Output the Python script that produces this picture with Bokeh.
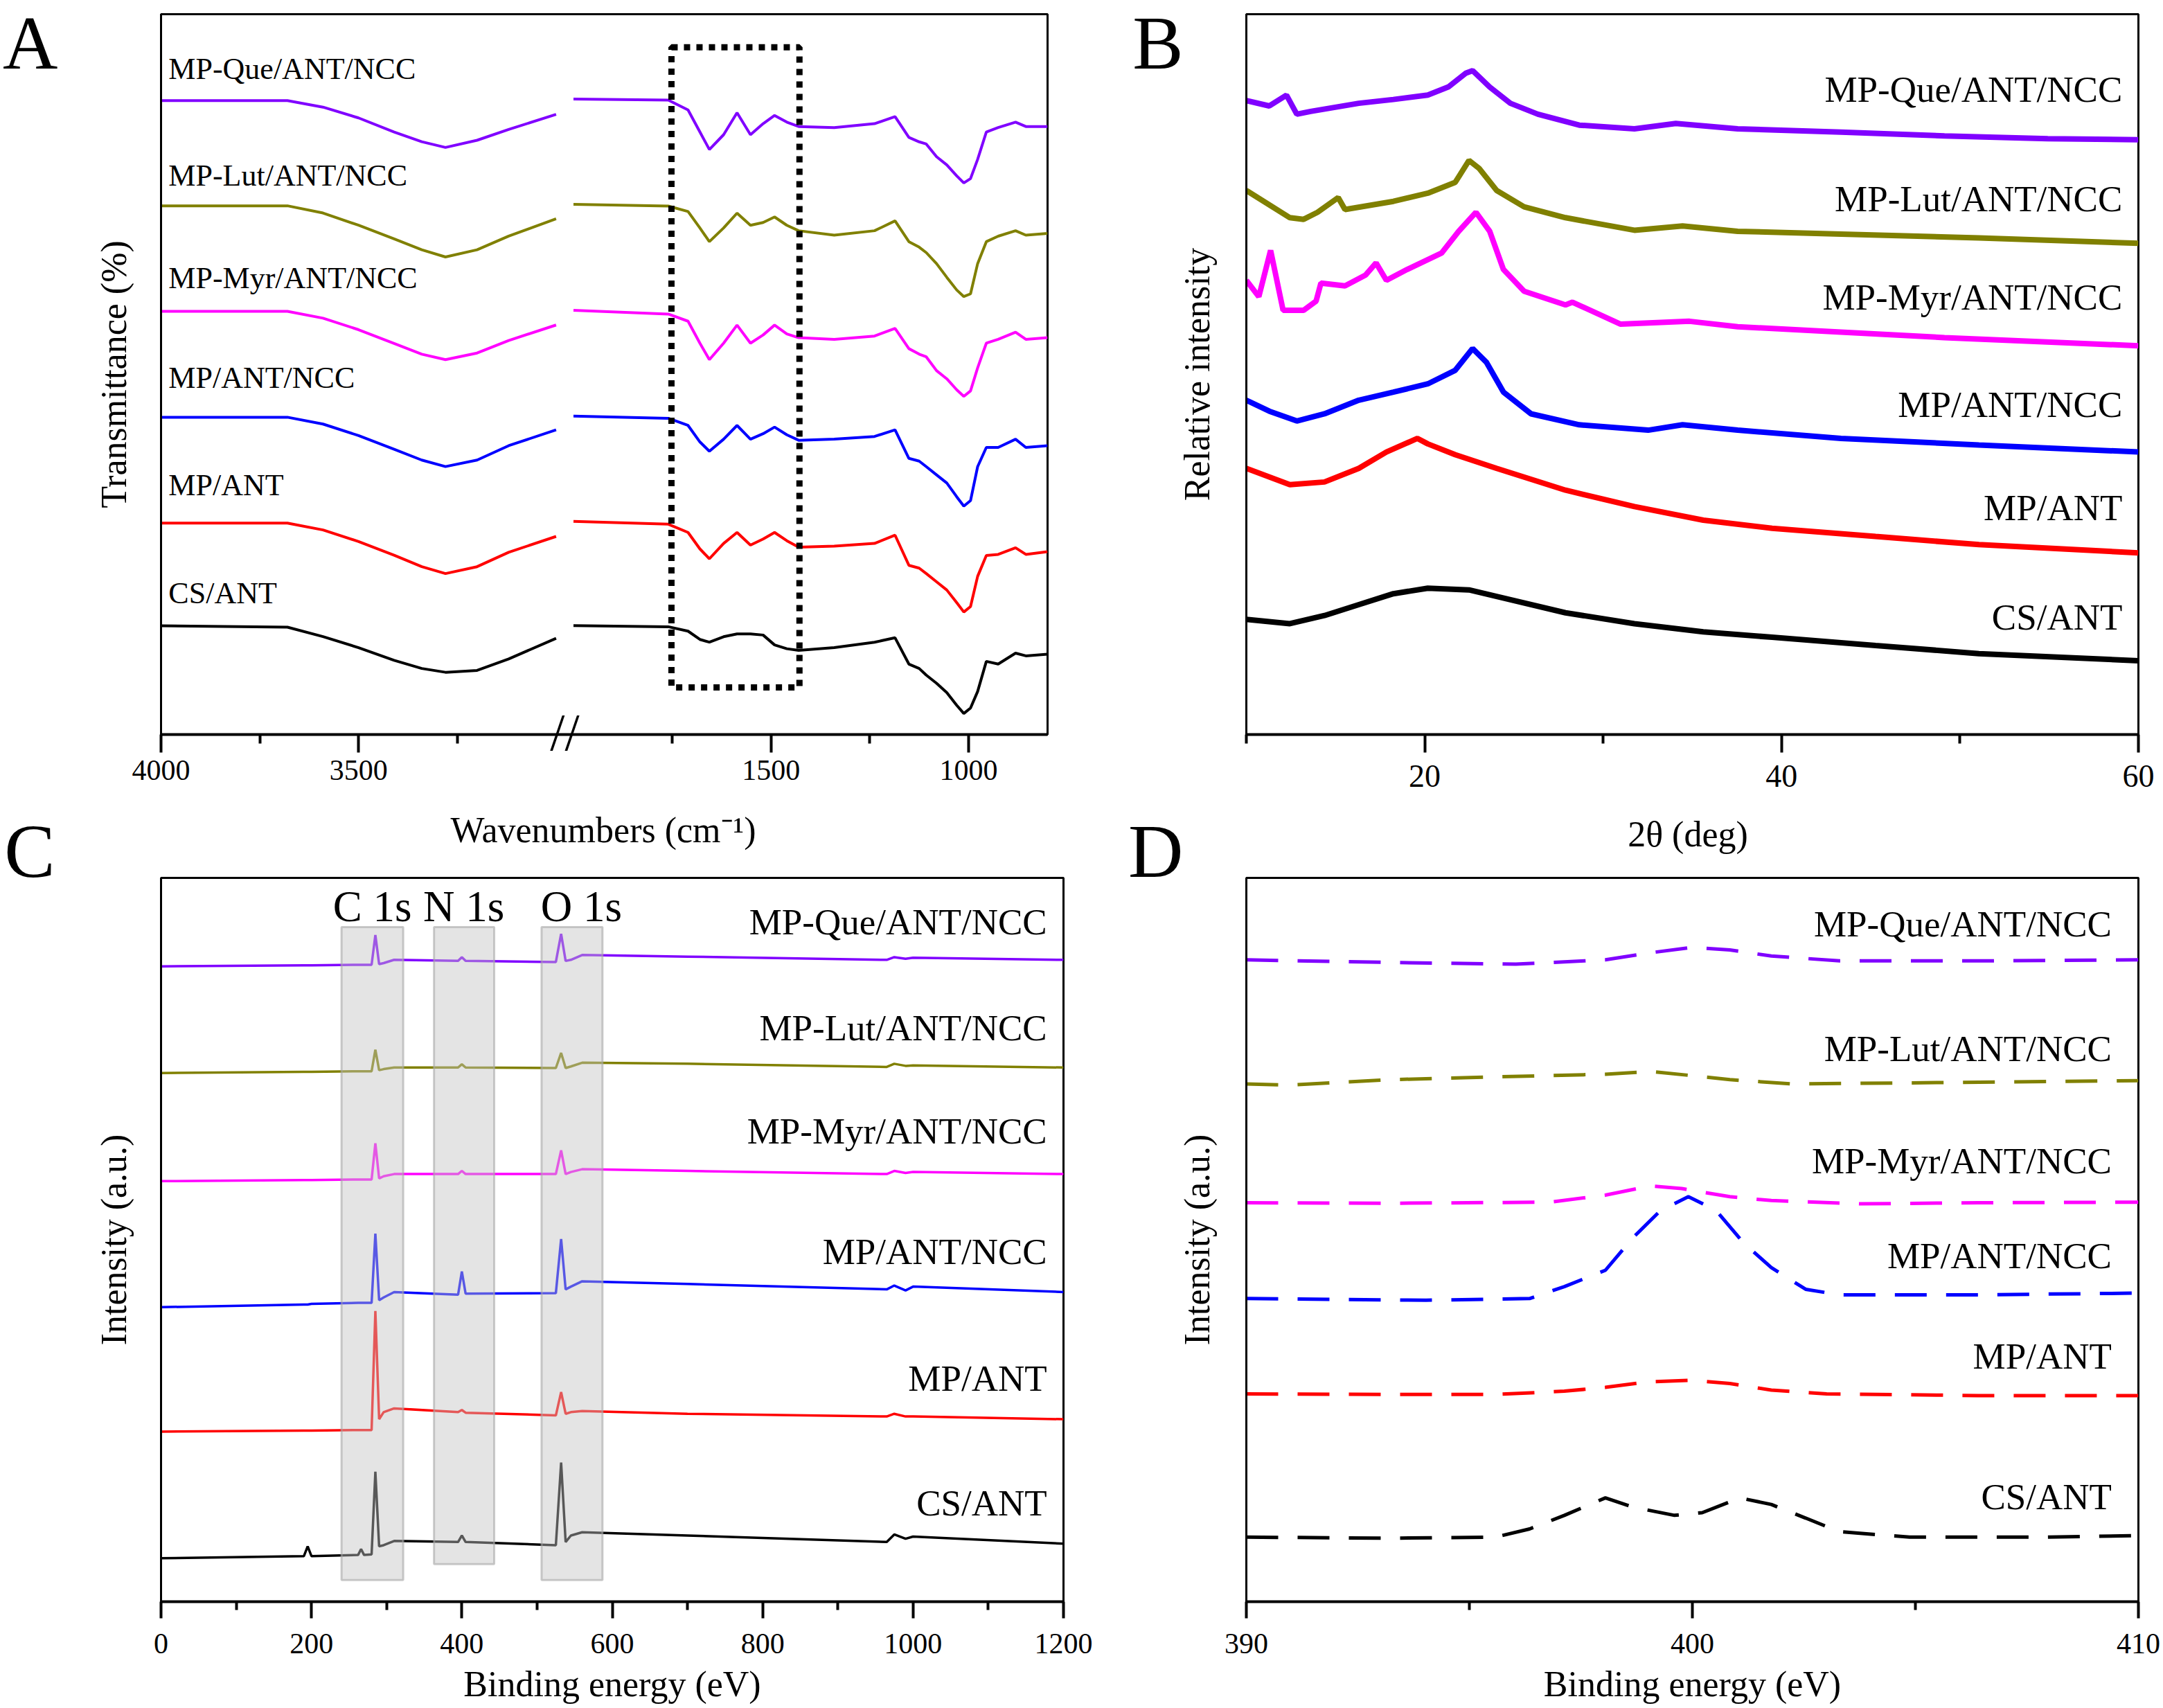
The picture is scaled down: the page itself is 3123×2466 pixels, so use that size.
from bokeh.plotting import figure
from bokeh.layouts import gridplot
from bokeh.models import ColumnDataSource, FixedTicker, Range1d, BoxAnnotation, LinearAxis
from bokeh.core.properties import value
from bokeh.embed import file_html
from bokeh.resources import INLINE

FONT = "Liberation Serif"

samples = ["MP-Que/ANT/NCC", "MP-Lut/ANT/NCC", "MP-Myr/ANT/NCC", "MP/ANT/NCC", "MP/ANT", "CS/ANT"]
colors = ["#8000FF", "#808000", "#FF00FF", "#0000FF", "#FF0000", "#000000"]

# ---------------- A : FTIR (broken wavenumber axis) ----------------
ftir_wn_high = [4000, 3680, 3590, 3500, 3410, 3340, 3280, 3200, 3120, 3000]
ftir_high = [
    [88.0, 88.0, 87.1, 85.6, 83.65, 82.3, 81.5, 82.5, 84.0, 86.1],
    [73.4, 73.4, 72.4, 70.7, 68.8, 67.3, 66.3, 67.3, 69.2, 71.6],
    [58.75, 58.75, 57.8, 56.2, 54.3, 52.8, 52.05, 52.96, 54.7, 56.85],
    [44.05, 44.05, 43.1, 41.5, 39.6, 38.1, 37.2, 38.1, 40.1, 42.3],
    [29.35, 29.35, 28.4, 26.8, 24.9, 23.3, 22.34, 23.3, 25.3, 27.5],
    [15.1, 14.9, 13.6, 12.06, 10.3, 9.17, 8.64, 8.9, 10.5, 13.36],
]
ftir_wn_low = [2000, 1760, 1710, 1680, 1656, 1620, 1586, 1552, 1520, 1491, 1460, 1430, 1340, 1238,
               1186, 1151, 1125, 1107, 1081, 1055, 1030, 1012, 995, 977, 955, 925, 881, 855, 800]
ftir_low = [
    [88.22, 88.07, 86.70, 83.65, 81.21, 83.27, 86.32, 83.27, 84.80, 85.94, 85.02, 84.41, 84.26, 84.80,
     85.78, 82.89, 82.28, 81.98, 80.22, 79.08, 77.56, 76.57, 77.18, 79.84, 83.65, 84.26, 85.02, 84.41, 84.41],
    [73.60, 73.37, 72.61, 70.32, 68.42, 70.32, 72.38, 70.70, 71.08, 71.85, 70.70, 69.94, 69.33, 69.94,
     71.31, 68.42, 67.66, 66.90, 65.37, 63.47, 61.72, 60.80, 61.18, 65.37, 68.42, 69.18, 69.94, 69.33, 69.56],
    [58.90, 58.37, 57.38, 54.33, 52.04, 54.33, 56.84, 54.33, 55.47, 56.84, 55.62, 55.09, 54.86, 55.32,
     56.39, 53.57, 52.81, 52.43, 50.52, 49.38, 47.86, 46.94, 47.70, 50.90, 54.33, 54.86, 55.85, 54.86, 55.09],
    [44.20, 43.90, 42.91, 40.62, 39.33, 41.00, 42.91, 41.00, 41.76, 42.68, 41.61, 40.85, 41.00, 41.38,
     42.30, 38.34, 37.96, 37.19, 36.05, 34.91, 33.01, 31.71, 32.47, 37.19, 39.86, 39.86, 41.00, 39.86, 40.09],
    [29.58, 29.20, 28.05, 25.77, 24.40, 26.53, 28.05, 26.30, 27.14, 28.05, 26.91, 26.00, 26.15, 26.53,
     27.67, 23.49, 23.10, 22.34, 21.20, 20.06, 18.31, 17.01, 17.77, 21.96, 24.86, 25.01, 25.92, 25.01, 25.39],
    [15.11, 14.96, 14.35, 13.20, 12.82, 13.58, 13.97, 13.97, 13.81, 12.44, 11.91, 11.68, 12.06, 12.82,
     13.43, 9.78, 9.17, 8.25, 7.11, 5.82, 4.06, 2.92, 3.68, 5.97, 10.16, 9.78, 11.30, 10.92, 11.15],
]
ftir_major = [4000, 3500, 1500, 1000]
ftir_minor = [3750, 3250, 1750, 1250]
ftir_box_wn = (1752, 1428)
ftir_box_level = (6.55, 95.4)

# ---------------- B : XRD ----------------
xrd_x = [
    [10.0, 11.29, 12.25, 12.83, 13.6, 16.3, 18.24, 20.17, 21.32, 22.29, 22.68, 23.64, 24.8, 26.34, 28.66,
     31.75, 34.07, 37.54, 43.33, 49.13, 54.92, 60.0],
    [10.0, 12.44, 13.21, 13.99, 15.15, 15.53, 18.24, 20.17, 21.71, 22.48, 23.06, 24.03, 25.57, 27.89,
     31.75, 34.45, 37.54, 43.33, 51.06, 60.0],
    [10.0, 10.7, 11.36, 12.06, 13.21, 13.91, 14.18, 15.53, 16.69, 17.27, 17.85, 19.01, 20.94, 21.9, 22.87,
     23.64, 24.41, 25.57, 27.89, 28.28, 30.96, 34.84, 37.54, 43.33, 49.13, 60.0],
    [10.0, 11.29, 12.83, 14.38, 16.3, 18.24, 20.17, 21.71, 22.68, 23.45, 24.41, 25.96, 28.66, 32.52, 34.45,
     37.54, 43.33, 51.06, 60.0],
    [10.0, 12.44, 14.38, 16.3, 17.85, 19.59, 20.17, 21.71, 24.03, 27.89, 31.75, 35.61, 39.47, 45.27, 51.06, 60.0],
    [10.0, 12.44, 14.38, 16.3, 18.24, 20.17, 22.48, 24.03, 27.89, 31.75, 35.61, 39.47, 45.27, 51.06, 60.0],
]
xrd_y = [
    [88.01, 87.26, 88.77, 86.12, 86.5, 87.63, 88.16, 88.77, 89.9, 91.8, 92.17, 89.9, 87.63, 86.12, 84.6,
     84.08, 84.84, 84.08, 83.63, 83.1, 82.72, 82.57],
    [75.53, 71.75, 71.52, 72.5, 74.55, 72.88, 74.02, 75.15, 76.66, 79.69, 78.56, 75.53, 73.26, 71.75,
     70.01, 70.61, 69.86, 69.48, 68.95, 68.19],
    [63.05, 60.78, 67.21, 58.89, 58.89, 60.17, 62.67, 62.29, 63.8, 65.47, 63.05, 64.56, 66.83, 69.86, 72.5,
     69.86, 64.56, 61.54, 59.64, 60.02, 56.98, 57.37, 56.62, 55.86, 55.1, 53.97],
    [46.41, 44.89, 43.53, 44.52, 46.41, 47.54, 48.68, 50.57, 53.59, 51.7, 47.54, 44.52, 43.0, 42.25, 43.0,
     42.25, 41.11, 40.2, 39.22],
    [36.95, 34.68, 35.06, 36.95, 39.22, 41.11, 40.35, 38.84, 36.95, 33.92, 31.65, 29.76, 28.63, 27.49, 26.36, 25.22],
    [15.99, 15.39, 16.52, 18.03, 19.55, 20.31, 20.08, 19.17, 16.9, 15.39, 14.25, 13.5, 12.36, 11.23, 10.25],
]

# ---------------- C : XPS survey ----------------
xps_ev = [0, 190, 195, 200, 262, 266, 270, 280, 285, 290, 296, 310, 395, 400, 405, 525, 532, 538, 545,
          560, 700, 965, 975, 990, 1000, 1200]
xps = [
    [87.78, 87.93, 87.93, 87.93, 88.0, 88.0, 88.0, 88.0, 92.11, 88.08, 88.23, 88.68, 88.53, 89.05, 88.53,
     88.38, 92.26, 88.53, 88.68, 89.35, 89.12, 88.68, 89.05, 88.83, 88.98, 88.68],
    [73.05, 73.20, 73.20, 73.20, 73.28, 73.28, 73.28, 73.28, 76.27, 73.43, 73.58, 73.80, 73.80, 74.25, 73.80,
     73.73, 75.82, 73.73, 73.95, 74.47, 74.32, 73.88, 74.32, 74.03, 74.10, 73.80],
    [58.10, 58.25, 58.25, 58.25, 58.33, 58.33, 58.33, 58.33, 63.34, 58.48, 58.78, 59.08, 59.08, 59.52, 59.08,
     59.08, 62.36, 59.08, 59.37, 59.75, 59.52, 59.08, 59.52, 59.23, 59.37, 59.08],
    [40.69, 41.06, 41.06, 41.14, 41.28, 41.28, 41.28, 41.28, 50.85, 41.66, 42.03, 42.78, 42.41, 45.62, 42.56,
     42.63, 50.11, 43.15, 43.53, 44.27, 43.90, 43.15, 43.68, 43.00, 43.53, 42.78],
    [23.49, 23.64, 23.64, 23.64, 23.72, 23.72, 23.72, 23.72, 40.16, 25.21, 26.19, 26.71, 26.19, 26.48, 26.11,
     25.74, 28.95, 25.96, 26.19, 26.33, 25.96, 25.59, 25.96, 25.59, 25.59, 25.21],
    [6.00, 6.30, 7.65, 6.30, 6.45, 7.27, 6.45, 6.53, 17.96, 7.65, 7.80, 8.39, 8.25, 9.14, 8.25,
     7.80, 19.23, 8.25, 9.14, 9.59, 9.14, 8.25, 9.29, 8.69, 8.99, 8.02],
]
xps_regions = [(240, 322, 3.0), (363, 443, 5.2), (506, 587, 3.0)]
xps_region_top = 93.2
xps_region_names = ["C 1s", "N 1s", "O 1s"]
xps_region_center = [281, 402.5, 559]

# ---------------- D : N 1s high resolution ----------------
n1s_x = [
    [390.0, 393.26, 396.04, 398.05, 398.98, 400.0, 400.84, 401.77, 403.3, 406.41, 410.0],
    [390.0, 390.93, 393.26, 395.58, 398.05, 399.06, 399.91, 400.84, 402.23, 404.87, 410.0],
    [390.0, 393.26, 396.82, 398.05, 399.06, 399.76, 400.84, 401.77, 403.78, 406.41, 410.0],
    [390.0, 394.03, 396.35, 397.13, 398.05, 398.67, 399.29, 399.91, 400.53, 401.15, 401.77, 402.54, 403.3,
     406.41, 410.0],
    [390.0, 393.26, 395.58, 397.13, 398.05, 398.98, 400.0, 400.84, 401.77, 403.01, 406.41, 410.0],
    [390.0, 393.26, 395.58, 396.35, 397.13, 398.05, 398.67, 399.6, 400.22, 401.07, 401.77, 402.54, 403.3,
     404.87, 407.96, 410.0],
]
n1s_y = [
    [88.68, 88.31, 88.08, 88.68, 89.59, 90.41, 90.04, 89.21, 88.53, 88.53, 88.68],
    [71.53, 71.37, 72.13, 72.50, 72.88, 73.26, 72.73, 72.13, 71.53, 71.68, 71.98],
    [55.12, 55.05, 55.20, 56.17, 57.45, 57.08, 55.95, 55.42, 54.97, 55.12, 55.20],
    [41.88, 41.65, 41.88, 43.53, 45.79, 50.30, 54.07, 55.95, 54.07, 49.55, 46.17, 43.16, 42.40, 42.40, 42.63],
    [28.71, 28.63, 28.63, 29.08, 29.61, 30.36, 30.59, 30.14, 29.23, 28.71, 28.48, 28.48],
    [8.92, 8.77, 8.92, 10.05, 11.93, 14.34, 13.06, 11.93, 12.30, 14.34, 13.43, 11.55, 9.67, 8.92, 8.92, 9.14],
]

# label placements (data units of each panel)
labels_A = (3981, [92.4, 77.6, 63.4, 49.5, 34.6, 19.6])
labels_B = (59.1, [89.6, 74.4, 60.7, 45.8, 31.5, 16.3])
labels_C = (1178, [93.9, 79.3, 65.0, 48.4, 30.9, 13.6])
labels_D = (409.4, [93.6, 76.4, 60.9, 47.8, 33.9, 14.5])

# broken-axis compression for panel A
BREAK_HI, BREAK_LO, GAP = 3000, 2000, 44


def to_axis(wn):
    return wn if wn >= BREAK_HI else wn + (BREAK_HI - BREAK_LO) - GAP


def make_fig(fw, fh, bl, br, bt, bb, xr):
    p = figure(frame_width=fw, frame_height=fh, min_border_left=bl, min_border_right=br,
               min_border_top=bt, min_border_bottom=bb, x_range=xr, y_range=Range1d(0, 100),
               output_backend="svg", toolbar_location=None)
    p.xgrid.visible = False
    p.ygrid.visible = False
    p.outline_line_color = "black"
    p.outline_line_width = 3
    p.outline_line_alpha = 1.0
    p.background_fill_color = "white"
    p.border_fill_color = "white"
    return p


def style_axes(p, ylabel, major, minor, tick_font, tick_out, tick_stand, ystand):
    xa = p.xaxis[0]
    xa.ticker = FixedTicker(ticks=major, minor_ticks=minor)
    xa.major_label_text_font = FONT
    xa.major_label_text_font_size = tick_font
    xa.major_label_text_color = "black"
    xa.major_label_standoff = tick_stand
    xa.major_tick_in = 0
    xa.major_tick_out = tick_out
    xa.minor_tick_in = 0
    xa.minor_tick_out = tick_out // 2
    xa.major_tick_line_width = 4
    xa.minor_tick_line_width = 4
    xa.axis_line_width = 4
    ya = p.yaxis[0]
    ya.ticker = FixedTicker(ticks=[], minor_ticks=[])
    ya.major_tick_in = 0
    ya.major_tick_out = 0
    ya.minor_tick_in = 0
    ya.minor_tick_out = 0
    ya.axis_line_width = 3
    ya.axis_label = ylabel
    ya.axis_label_text_font = FONT
    ya.axis_label_text_font_size = "52px"
    ya.axis_label_text_font_style = "normal"
    ya.axis_label_text_color = "black"
    ya.axis_label_standoff = ystand


def bare_axis(**kw):
    ax = LinearAxis(**kw)
    ax.axis_line_color = None
    ax.major_tick_line_color = None
    ax.minor_tick_line_color = None
    ax.major_tick_in = 0
    ax.major_tick_out = 0
    ax.minor_tick_in = 0
    ax.minor_tick_out = 0
    return ax


def set_xlabel(p, text, standoff):
    # x-axis title of the upper panel, drawn in the upper border of the lower panel
    ax = bare_axis(ticker=FixedTicker(ticks=[], minor_ticks=[]))
    ax.axis_label = text
    ax.axis_label_text_font = FONT
    ax.axis_label_text_font_size = "52px"
    ax.axis_label_text_font_style = "normal"
    ax.axis_label_text_color = "black"
    ax.axis_label_standoff = standoff
    p.add_layout(ax, "above")


def set_bottom_title(p, text, standoff):
    xa = p.xaxis[0]
    xa.axis_label = text
    xa.axis_label_text_font = FONT
    xa.axis_label_text_font_size = "52px"
    xa.axis_label_text_font_style = "normal"
    xa.axis_label_text_color = "black"
    xa.axis_label_standoff = standoff


def panel_letter(p, txt, tick, standoff, lift=False):
    ax = bare_axis(ticker=FixedTicker(ticks=[tick], minor_ticks=[]))
    ax.major_label_overrides = {tick: txt + ("\n\u00a0" if lift else "")}
    ax.major_label_text_font = FONT
    ax.major_label_text_font_size = "110px"
    ax.major_label_text_color = "black"
    ax.major_label_standoff = standoff
    p.add_layout(ax, "left")


def add_names(p, xpos, ys, align, size):
    src = ColumnDataSource(dict(x=[xpos] * len(ys), y=ys, t=samples))
    p.text(x="x", y="y", text="t", source=src, text_font=value(FONT), text_font_size=value(size),
           text_align=align, text_baseline="middle", text_color="black")


TOP_SHIFT = 40   # the whole grid is lifted a little; the panels keep their places on the page

# ---- Panel A
pA = make_fig(1280, 1040, 232, 68, 20 + TOP_SHIFT, 90, Range1d(4000, to_axis(800)))
for ys_h, ys_l, c in zip(ftir_high, ftir_low, colors):
    pA.line([to_axis(w) for w in ftir_wn_high], ys_h, line_color=c, line_width=4)
    pA.line([to_axis(w) for w in ftir_wn_low], ys_l, line_color=c, line_width=4)
style_axes(pA, "Transmittance (%)", [to_axis(w) for w in ftir_major], [to_axis(w) for w in ftir_minor],
           "42px", 26, 11, 40)
pA.xaxis[0].major_label_overrides = {to_axis(w): str(w) for w in ftir_major}
pA.add_layout(BoxAnnotation(left=to_axis(ftir_box_wn[0]), right=to_axis(ftir_box_wn[1]),
                            bottom=ftir_box_level[0], top=ftir_box_level[1], fill_alpha=0,
                            line_color="black", line_alpha=1.0, line_width=9, line_dash="9 9"))
brk = (BREAK_HI + to_axis(BREAK_LO)) // 2
break_axis = bare_axis(ticker=FixedTicker(ticks=[brk], minor_ticks=[]))
break_axis.major_label_overrides = {brk: "//"}
break_axis.major_label_text_font = FONT
break_axis.major_label_text_font_size = "76px"
break_axis.major_label_text_color = "black"
break_axis.major_label_standoff = -114
pA.add_layout(break_axis, "below")
add_names(pA, labels_A[0], labels_A[1], "left", "44px")
panel_letter(pA, "A", 96.0, 49)

# ---- Panel B
pB = make_fig(1288, 1040, 219, 36, 20 + TOP_SHIFT, 90, Range1d(10, 60))
for xs, ys, c in zip(xrd_x, xrd_y, colors):
    pB.line(xs, ys, line_color=c, line_width=8)
style_axes(pB, "Relative intensity", [20, 40, 60], [10, 30, 50], "46px", 26, 18, 43)
add_names(pB, labels_B[0], labels_B[1], "right", "53px")
panel_letter(pB, "B", 96.0, -12)

# ---- Panel C
pC = make_fig(1303, 1045, 232, 45, 117, 152, Range1d(0, 1200))
for ys, c in zip(xps, colors):
    pC.line(xps_ev, ys, line_color=c, line_width=3.5)
for (lo, hi, bot) in xps_regions:
    pC.add_layout(BoxAnnotation(left=lo, right=hi, bottom=bot, top=xps_region_top, fill_color="#C4C4C4",
                                fill_alpha=0.45, line_color="#A8A8A8", line_alpha=0.6, line_width=3))
pC.text(x=xps_region_center, y=[96.0] * 3, text=xps_region_names, text_font=value(FONT),
        text_font_size=value("63px"), text_align="center", text_baseline="middle", text_color="black")
style_axes(pC, "Intensity (a.u.)", list(range(0, 1201, 200)), list(range(100, 1200, 200)),
           "42px", 24, 22, 40)
set_bottom_title(pC, "Binding energy (eV)", 13)
set_xlabel(pC, "Wavenumbers (cm\u207b\u00b9)\u00a0\u00a0", 41)
add_names(pC, labels_C[0], labels_C[1], "right", "53px")
panel_letter(pC, "C", 100, 53, lift=True)

# ---- Panel D
pD = make_fig(1288, 1045, 219, 36, 117, 152, Range1d(390, 410))
for xs, ys, c in zip(n1s_x, n1s_y, colors):
    pD.line(xs, ys, line_color=c, line_width=5, line_dash="46 28")
style_axes(pD, "Intensity (a.u.)", [390, 400, 410], [395, 405], "42px", 24, 22, 43)
set_bottom_title(pD, "Binding energy (eV)", 13)
set_xlabel(pD, "2\u03b8 (deg)\u00a0", 35)
add_names(pD, labels_D[0], labels_D[1], "right", "53px")
panel_letter(pD, "D", 100, -12, lift=True)

grid = gridplot([[pA, pB], [pC, pD]], toolbar_location=None)
grid.styles = {"margin-top": f"-{TOP_SHIFT}px"}
open("out.html", "w").write(file_html(grid, INLINE))
